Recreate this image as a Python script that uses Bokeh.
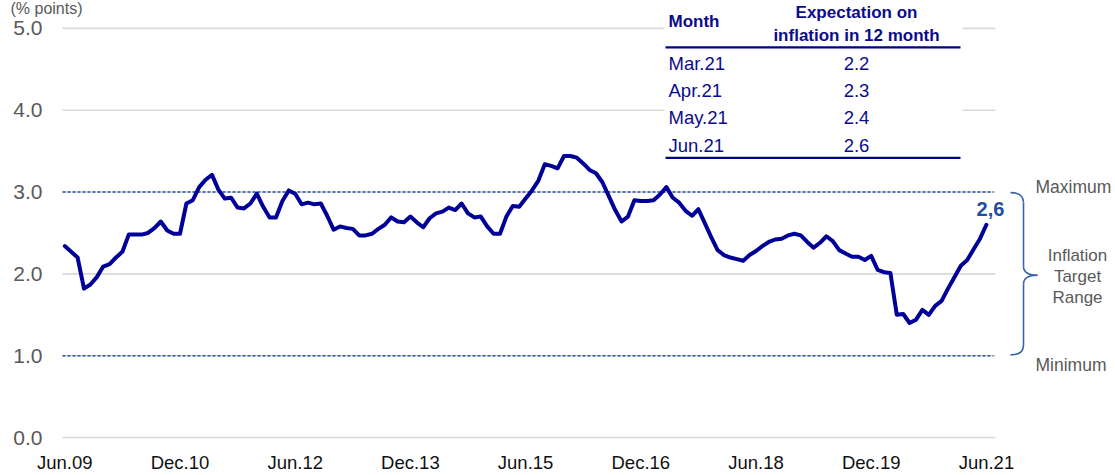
from bokeh.plotting import figure
from bokeh.models import FixedTicker, Range1d
from bokeh.embed import file_html
from bokeh.resources import INLINE
from bokeh.core.properties import value

# ---------------- data ----------------
inflation = [
    2.34, 2.27, 2.20, 1.82, 1.87, 1.96, 2.09, 2.12, 2.20, 2.27,   # Jun.09 - Mar.10
    2.48, 2.48, 2.48, 2.50, 2.56, 2.64, 2.53, 2.49, 2.49, 2.86,   # Apr.10 - Jan.11
    2.90, 3.06, 3.15, 3.21, 3.03, 2.92, 2.93, 2.81, 2.80, 2.86,   # Feb.11 - Nov.11
    2.98, 2.82, 2.69, 2.69, 2.89, 3.02, 2.98, 2.85, 2.87, 2.85,   # Dec.11 - Sep.12
    2.86, 2.71, 2.54, 2.58, 2.56, 2.55, 2.47, 2.47, 2.49, 2.55,   # Oct.12 - Jul.13
    2.60, 2.69, 2.64, 2.63, 2.70, 2.63, 2.57, 2.68, 2.74, 2.76,   # Aug.13 - May.14
    2.81, 2.78, 2.86, 2.74, 2.69, 2.70, 2.58, 2.49, 2.49, 2.70,   # Jun.14 - Mar.15
    2.83, 2.82, 2.92, 3.02, 3.14, 3.34, 3.32, 3.29, 3.44, 3.44,   # Apr.15 - Jan.16
    3.42, 3.35, 3.27, 3.23, 3.12, 2.95, 2.78, 2.64, 2.70, 2.90,   # Feb.16 - Nov.16
    2.89, 2.89, 2.90, 2.97, 3.06, 2.93, 2.87, 2.77, 2.71, 2.79,   # Dec.16 - Sep.17
    2.62, 2.45, 2.29, 2.23, 2.20, 2.18, 2.16, 2.23, 2.28, 2.34,   # Oct.17 - Jul.18
    2.39, 2.42, 2.43, 2.47, 2.49, 2.47, 2.39, 2.32, 2.38, 2.46,   # Aug.18 - May.19
    2.40, 2.29, 2.25, 2.21, 2.21, 2.17, 2.22, 2.05, 2.02, 2.01,   # Jun.19 - Mar.20
    1.50, 1.51, 1.40, 1.44, 1.56, 1.50, 1.61, 1.67, 1.82, 1.96,   # Apr.20 - Jan.21
    2.10, 2.17, 2.30, 2.43, 2.60,                                 # Feb.21 - Jun.21
]
months_idx = list(range(len(inflation)))
tick_labels = ["Jun.09", "Dec.10", "Jun.12", "Dec.13", "Jun.15",
               "Dec.16", "Jun.18", "Dec.19", "Jun.21"]
tick_step = 18
y_ticks = [0, 1, 2, 3, 4, 5]
target_levels = [3.0, 1.0]
target_names = ["Maximum", "Minimum"]
range_lines = ["Inflation", "Target", "Range"]
table_header = ["Month", "Expectation on", "inflation in 12 month"]
table_months = ["Mar.21", "Apr.21", "May.21", "Jun.21"]
table_values = [2.2, 2.3, 2.4, 2.6]
last_label = "2,6"
unit_label = "(% points)"

# ---------------- layout helpers (picture pixel -> data) ----------------
W, H = 1113, 475
FRAME_BOTTOM = 449
def X(px):
    return (px - 64.3) / 6.4
def Y(py):
    return (439.0 - py) / 82.2

FONT = value("Liberation Sans")

p = figure(width=W, height=H, output_backend="svg", toolbar_location=None,
           x_range=Range1d(X(0), X(W)), y_range=Range1d(Y(FRAME_BOTTOM), Y(0)),
           y_axis_location=None,
           min_border_left=0, min_border_right=0, min_border_top=0,
           min_border_bottom=H - FRAME_BOTTOM)
p.outline_line_color = None
p.background_fill_color = "white"
p.xgrid.visible = False
p.ygrid.visible = False

# x axis (labels only)
xt = [i * tick_step for i in range(len(tick_labels))]
p.xaxis.ticker = FixedTicker(ticks=xt)
p.xaxis.major_label_overrides = {t: lab for t, lab in zip(xt, tick_labels)}
p.xaxis.axis_line_color = None
p.xaxis.major_tick_line_color = None
p.xaxis.minor_tick_line_color = None
p.xaxis.major_tick_out = 0
p.xaxis.major_tick_in = 0
p.xaxis.major_label_standoff = 4
p.xaxis.major_label_text_font = "Liberation Sans"
p.xaxis.major_label_text_font_size = "18.5px"
p.xaxis.major_label_text_color = "#111111"

# y tick labels (value axis), placed through the y scale
p.text(x=[X(42)] * len(y_ticks), y=y_ticks,
       text=[f"{t:.1f}" for t in y_ticks],
       text_font=FONT, text_font_size="21px", text_color="#595959",
       text_align="right", text_baseline="middle")

# unit label at the top left
p.text(x=[X(10)], y=[Y(17)], text=[unit_label], text_font=FONT,
       text_font_size="16px", text_color="#595959",
       text_align="left", text_baseline="bottom")

# grid lines
p.segment(x0=X(62), x1=X(995), y0=y_ticks, y1=y_ticks,
          line_color="#d9d9d9", line_width=1.6)
# target range dashed lines
p.segment(x0=X(62), x1=X(993), y0=target_levels, y1=target_levels,
          line_color="#2A52A0", line_width=1.5, line_dash="3 2")

# table background and rules
p.quad(left=X(664), right=X(962), top=Y(-5), bottom=Y(163),
       fill_color="white", line_color=None)
p.segment(x0=X(665), x1=X(960), y0=[Y(47), Y(158)], y1=[Y(47), Y(158)],
          line_color="#00008B", line_width=2.2)

# main series
p.line(x=months_idx, y=inflation, line_color="#000099", line_width=4,
       line_join="round", line_cap="round")

# brace
bc = "#3B64A8"
p.quadratic(x0=[X(1010), X(1023), X(1037), X(1023)],
            y0=[Y(193), Y(267), Y(276), Y(346)],
            x1=[X(1023), X(1037), X(1023), X(1010)],
            y1=[Y(203), Y(276), Y(285), Y(356)],
            cx=[X(1023), X(1023), X(1023), X(1023)],
            cy=[Y(193), Y(276), Y(276), Y(356)],
            line_color=bc, line_width=1.6)
p.segment(x0=[X(1023), X(1023)], x1=[X(1023), X(1023)],
          y0=[Y(203), Y(285)], y1=[Y(267), Y(346)],
          line_color=bc, line_width=1.6)

# right-hand annotations
p.text(x=[X(1035), X(1035)], y=[Y(187), Y(366)], text=target_names,
       text_font=FONT, text_font_size="17.5px", text_color="#595959",
       text_align="left", text_baseline="middle")
p.text(x=[X(1077)] * 3, y=[Y(256), Y(277), Y(298)], text=range_lines,
       text_font=FONT, text_font_size="17px", text_color="#595959",
       text_align="center", text_baseline="middle")

# last value label
p.text(x=[X(990)], y=[Y(209)], text=[last_label], text_font=FONT,
       text_font_size="20px", text_font_style="bold", text_color="#1F4E9A",
       text_align="center", text_baseline="middle")

# table text
tc = "#0B0B8C"
p.text(x=[X(668)], y=[Y(21)], text=[table_header[0]], text_font=FONT,
       text_font_size="17px", text_font_style="bold", text_color=tc,
       text_align="left", text_baseline="middle")
p.text(x=[X(856), X(856)], y=[Y(12), Y(35)], text=table_header[1:],
       text_font=FONT, text_font_size="17px", text_font_style="bold",
       text_color=tc, text_align="center", text_baseline="middle")
row_y = [Y(63), Y(90), Y(118), Y(146)]
p.text(x=[X(668)] * len(table_months), y=row_y, text=table_months,
       text_font=FONT, text_font_size="18.5px", text_color=tc,
       text_align="left", text_baseline="middle")
p.text(x=[X(856)] * len(table_values), y=row_y,
       text=[f"{v:.1f}" for v in table_values],
       text_font=FONT, text_font_size="18.5px", text_color=tc,
       text_align="center", text_baseline="middle")

open("out.html", "w").write(file_html(p, INLINE))
